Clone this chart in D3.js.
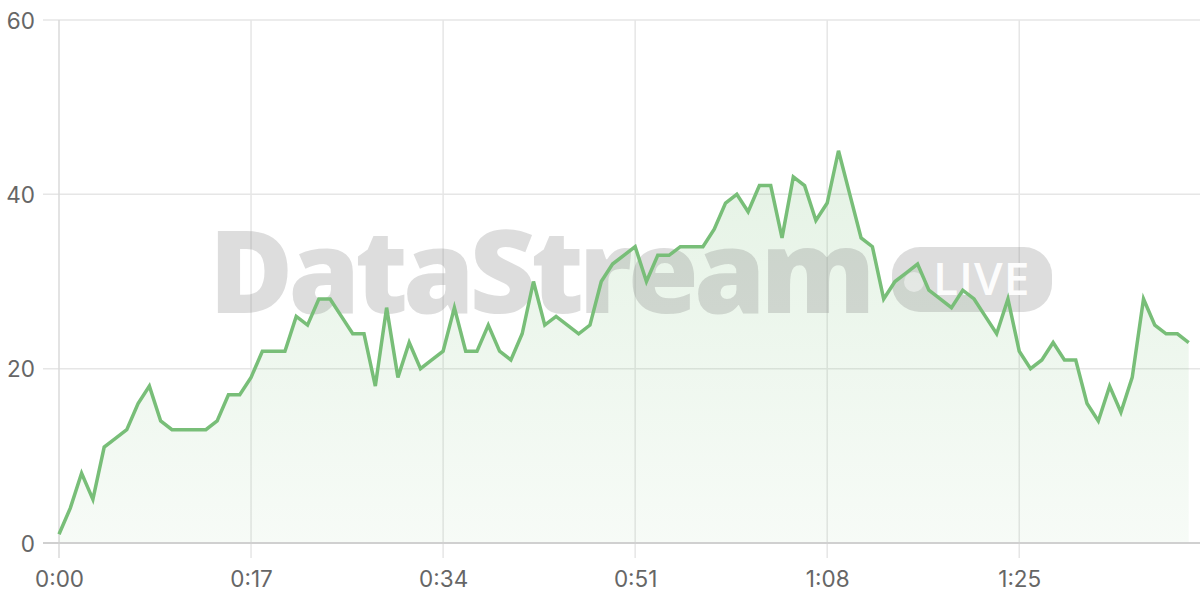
<!DOCTYPE html>
<html><head><meta charset="utf-8">
<script src="https://cdn.jsdelivr.net/npm/d3@7"></script>
<style>html,body{margin:0;padding:0;background:#fff;overflow:hidden}</style>
</head><body>
<svg id="chart" width="1200" height="600"></svg>
<script>
// ---- data ----
const values = [1,4,8,5,11,12,13,16,18,14,13,13,13,13,14,17,17,19,22,22,22,26,25,28,28,26,24,24,18,27,19,23,20,21,22,27,22,22,25,22,21,24,30,25,26,25,24,25,30,32,33,34,30,33,33,34,34,34,36,39,40,38,41,41,35,42,41,37,39,45,40,35,34,28,30,31,32,29,28,27,29,28,26,24,28,22,20,21,23,21,21,16,14,18,15,19,28,25,24,24,23];
const xTickSeconds = [0,17,34,51,68,85];
const yTickValues = [0,20,40,60];
const watermarkText = "DataStream";
const badgeText = "LIVE";

const svg = d3.select("#chart");
const plotLeft = 59, plotRight = 1200, plotTop = 20, plotBottom = 543;

const x = d3.scaleLinear().domain([0, 101]).range([plotLeft, plotRight]);
const y = d3.scaleLinear().domain([0, 60]).range([plotBottom, plotTop]);
const fmt = s => Math.floor(s/60) + ":" + String(s%60).padStart(2,"0");
const FONT = "Inter, 'Liberation Sans', sans-serif";

// gradient
const defs = svg.append("defs");
const grad = defs.append("linearGradient").attr("id","areaGrad")
  .attr("gradientUnits","userSpaceOnUse").attr("x1",0).attr("x2",0).attr("y1",plotTop).attr("y2",plotBottom);
grad.append("stop").attr("offset","0%").attr("stop-color","rgb(120,190,120)").attr("stop-opacity",0.24);
grad.append("stop").attr("offset","100%").attr("stop-color","rgb(120,190,120)").attr("stop-opacity",0.06);

// horizontal grid
svg.append("g").selectAll("line").data(yTickValues.filter(d=>d>0)).join("line")
  .attr("x1", plotLeft - 16).attr("x2", plotRight)
  .attr("y1", d => y(d)).attr("y2", d => y(d))
  .attr("stroke", "#e6e6e6").attr("stroke-width", 1.5);
// vertical grid
svg.append("g").selectAll("line").data(xTickSeconds).join("line")
  .attr("x1", d => x(d)).attr("x2", d => x(d))
  .attr("y1", plotTop).attr("y2", plotBottom + 15)
  .attr("stroke", d => d === 0 ? "#dadada" : "#e6e6e6").attr("stroke-width", 1.5);

// area
const area = d3.area().x((d,i)=>x(i)).y0(y(0)).y1(d=>y(d));
svg.append("path").datum(values).attr("d", area).attr("fill","url(#areaGrad)");

// watermark
const wm = svg.append("g");
wm.append("text").attr("x", 209).attr("y", 313)
  .attr("font-family", "'Open Sans', sans-serif").attr("font-weight", 800)
  .attr("font-size", 115).attr("letter-spacing", -5)
  .attr("fill", "rgba(120,120,120,0.25)").text(watermarkText);
wm.append("rect").attr("x", 892).attr("y", 247).attr("width", 160).attr("height", 65)
  .attr("rx", 28).attr("fill", "rgba(120,120,120,0.25)");
wm.append("circle").attr("cx", 914).attr("cy", 282).attr("r", 10)
  .attr("fill", "rgba(255,255,255,0.45)");
wm.append("text").attr("x", 933).attr("y", 295)
  .attr("font-family", "'Open Sans', sans-serif").attr("font-weight", 600)
  .attr("font-size", 46).attr("letter-spacing", 1)
  .attr("fill", "rgba(255,255,255,0.95)").text(badgeText);

// bottom axis line
svg.append("line").attr("x1", plotLeft - 16).attr("x2", plotRight).attr("y1", y(0)).attr("y2", y(0))
  .attr("stroke", "#d0d0d0").attr("stroke-width", 2);

// line
const line = d3.line().x((d,i)=>x(i)).y(d=>y(d));
svg.append("path").datum(values).attr("d", line)
  .attr("fill","none").attr("stroke","rgb(120,190,120)").attr("stroke-width",3.5)
  .attr("stroke-linejoin","miter");

// axes (labels)
const yAxis = svg.append("g").attr("transform", `translate(${plotLeft},0)`)
  .call(d3.axisLeft(y).tickValues(yTickValues).tickSize(0).tickPadding(24));
yAxis.select(".domain").remove();
yAxis.selectAll("text").attr("font-family", FONT).attr("font-size", 22.5).attr("fill", "#666").attr("dy","0.36em");

const xAxis = svg.append("g").attr("transform", `translate(0,${plotBottom})`)
  .call(d3.axisBottom(x).tickValues(xTickSeconds).tickFormat(fmt).tickSize(0).tickPadding(28));
xAxis.select(".domain").remove();
xAxis.selectAll("text").attr("font-family", FONT).attr("font-size", 22.5).attr("fill", "#666");
</script>
</body></html>
